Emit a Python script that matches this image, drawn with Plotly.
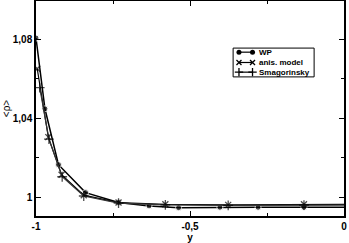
import plotly.graph_objects as go

wp_x = [-1.0, -0.971, -0.927, -0.839, -0.732, -0.633, -0.537, -0.403, -0.279, -0.13, 0.0]
wp_y = [1.0805, 1.0448, 1.0166, 1.0025, 0.9975, 0.9958, 0.9949, 0.9951, 0.9951, 0.9951, 0.9951]

anis_x = [-0.996, -0.96, -0.917, -0.845, -0.732, -0.58, -0.376, -0.13, 0.0]
anis_y = [1.065, 1.0305, 1.0115, 1.0012, 0.9975, 0.9966, 0.9963, 0.9966, 0.9966]

smag_x = [-0.988, -0.958, -0.915, -0.845, -0.732, -0.58, -0.376, -0.13, 0.0]
smag_y = [1.0555, 1.0295, 1.0105, 1.0008, 0.9972, 0.9963, 0.9961, 0.9962, 0.9962]

series_names = ["WP", "anis. model", "Smagorinsky"]

x_ticks = [-1, -0.5, 0]
y_ticks = [1.0, 1.04, 1.08]

FONT = "Liberation Sans, Arial, sans-serif"

styles = [
    dict(line=dict(color="black", width=1.5),
         marker=dict(symbol="circle", size=6, color="black")),
    dict(line=dict(color="black", width=1.2),
         marker=dict(symbol="x-thin", size=6, color="black", line=dict(color="black", width=1.3))),
    dict(line=dict(color="#333333", width=1.2),
         marker=dict(symbol="cross-thin", size=7, color="black", line=dict(color="black", width=1.3))),
]
legend_sizes = [5, 5, 6]

fig = go.Figure()
for (xs, ys), name, st in zip([(wp_x, wp_y), (anis_x, anis_y), (smag_x, smag_y)], series_names, styles):
    mk = dict(st["marker"])
    mk["size"] = [st["marker"]["size"]] * (len(xs) - 1) + [0]
    fig.add_trace(go.Scatter(x=xs, y=ys, name=name, mode="lines+markers",
                             line=st["line"], marker=mk, showlegend=False))

# custom compact legend (overlay axes in 0..1 units of the plot area)
leg_x0, leg_x1 = 0.640, 0.903
leg_y0, leg_y1 = 0.647, 0.781
row_y = [0.762, 0.714, 0.669]
samp_x = [0.659, 0.703]
text_x = 0.716
fig.add_shape(type="rect", xref="paper", yref="paper", x0=leg_x0, x1=leg_x1, y0=leg_y0, y1=leg_y1,
              line=dict(color="black", width=1), fillcolor="white", layer="below")
for name, st, ry, ls in zip(series_names, styles, row_y, legend_sizes):
    mk = dict(st["marker"])
    mk["size"] = ls
    fig.add_trace(go.Scatter(x=samp_x, y=[ry, ry], xaxis="x2", yaxis="y2", mode="lines+markers",
                             line=dict(color="black", width=1.2), marker=mk,
                             showlegend=False, hoverinfo="skip", cliponaxis=False))
    fig.add_annotation(x=text_x, y=ry, xref="paper", yref="paper", text="<b>%s</b>" % name,
                       showarrow=False, xanchor="left", yanchor="middle",
                       font=dict(family=FONT, size=8, color="black"))

fig.update_layout(
    width=349, height=243,
    margin=dict(l=36, r=5, t=1, b=27),
    paper_bgcolor="white", plot_bgcolor="white",
    separators=",.",
    font=dict(family=FONT, size=10, color="black"),
    showlegend=False,
    xaxis=dict(
        range=[-1, 0], tickvals=x_ticks, ticktext=["-1", "-0,5", "0"],
        ticks="inside", ticklen=5, tickwidth=1, tickcolor="black",
        minor=dict(tickvals=[-0.75, -0.25], ticks="inside", ticklen=3, tickcolor="black"),
        showline=True, linecolor="black", linewidth=1.5, mirror="ticks",
        showgrid=False, zeroline=False, automargin=False,
        tickfont=dict(family=FONT, size=10, weight="bold"),
        title=dict(text="<b>y</b>", font=dict(family=FONT, size=10), standoff=0),
    ),
    yaxis=dict(
        range=[0.9907, 1.0992], tickvals=y_ticks, ticktext=["1", "1,04", "1,08"],
        ticks="inside", ticklen=5, tickwidth=1, tickcolor="black",
        minor=dict(tickvals=[1.02, 1.06], ticks="inside", ticklen=3, tickcolor="black"),
        showline=True, linecolor="black", linewidth=1.5, mirror="ticks",
        showgrid=False, zeroline=False, automargin=False,
        tickfont=dict(family=FONT, size=10, weight="bold"),
        title=dict(text="&lt;ρ&gt;", font=dict(family=FONT, size=10), standoff=0),
    ),
    xaxis2=dict(range=[0, 1], overlaying="x", visible=False, fixedrange=True),
    yaxis2=dict(range=[0, 1], overlaying="y", visible=False, fixedrange=True),
)

fig.write_html("out.html", config={"displayModeBar": False},
               post_script="document.body.style.margin='0';document.body.style.overflow='hidden';")
